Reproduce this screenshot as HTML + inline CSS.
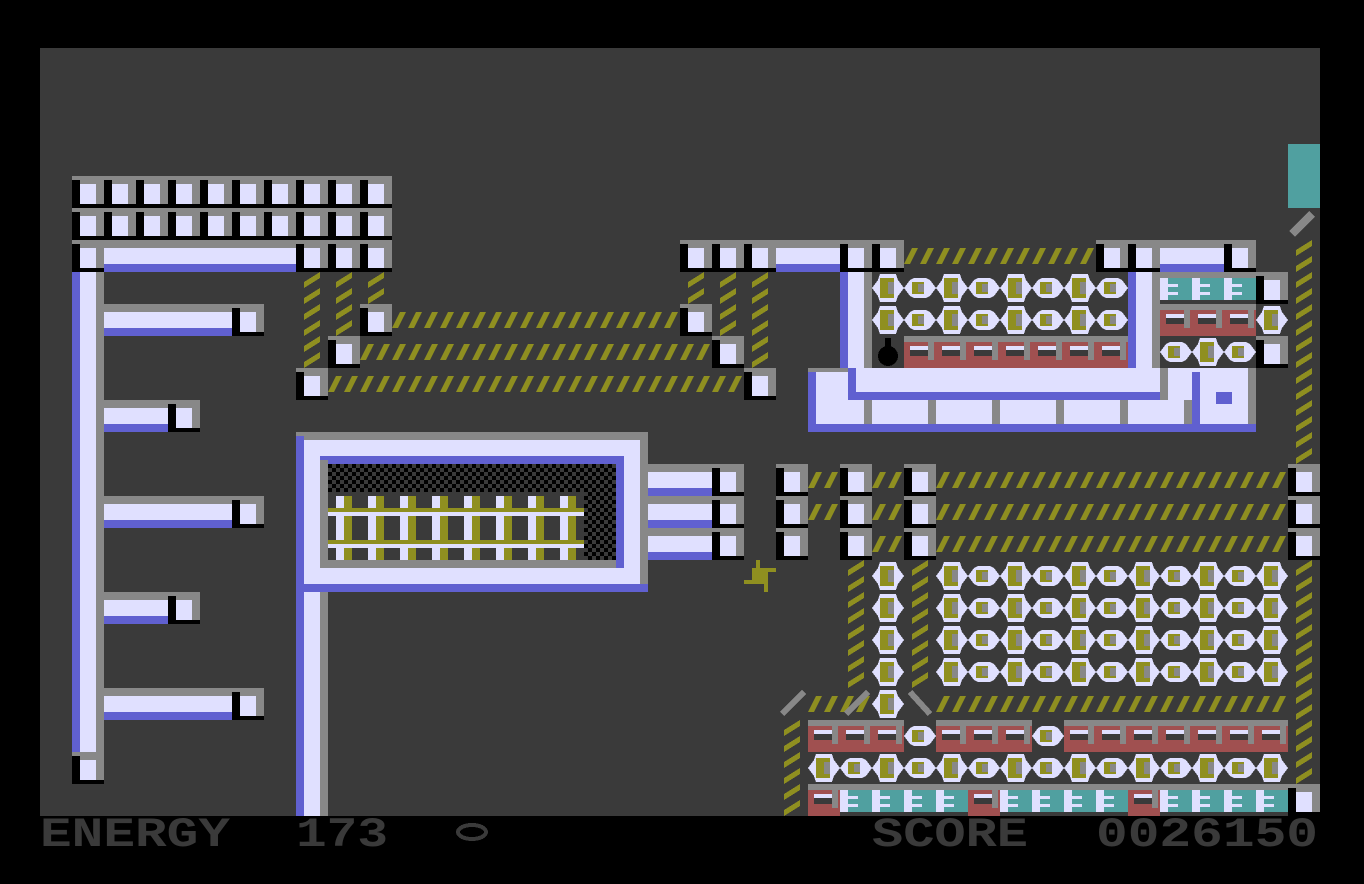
<!DOCTYPE html>
<html><head><meta charset="utf-8"><style>
html,body{margin:0;padding:0;background:#000;}
svg{display:block;}
</style></head><body>
<svg width="1364" height="884" viewBox="0 0 1364 884" xmlns="http://www.w3.org/2000/svg" shape-rendering="crispEdges">
<defs>
<pattern id="blk" x="40" y="48" width="32" height="32" patternUnits="userSpaceOnUse">
<rect width="32" height="32" fill="#888"/><rect x="0" y="4" width="8" height="28" fill="#000"/><rect x="0" y="28" width="32" height="4" fill="#000"/><rect x="8" y="8" width="16" height="20" fill="#e0e0ff"/>
</pattern>
<pattern id="ph" x="40" y="48" width="32" height="32" patternUnits="userSpaceOnUse">
<rect width="32" height="8" fill="#888"/><rect y="8" width="32" height="16" fill="#e0e0ff"/><rect y="24" width="32" height="8" fill="#6060d0"/>
</pattern>
<pattern id="pv" x="40" y="48" width="32" height="32" patternUnits="userSpaceOnUse">
<rect width="8" height="32" fill="#6060d0"/><rect x="8" width="16" height="32" fill="#e0e0ff"/><rect x="24" width="8" height="32" fill="#888"/>
</pattern>
<pattern id="sh" x="40" y="48" width="16" height="32" patternUnits="userSpaceOnUse">
<path d="M0 24 L6 24 L14 8 L8 8 Z" fill="#8f8f20"/>
</pattern>
<pattern id="sv" x="40" y="48" width="32" height="16" patternUnits="userSpaceOnUse">
<path d="M8 16 L8 10 L24 0 L24 6 Z" fill="#8f8f20"/>
</pattern>
<pattern id="pod" x="40" y="48" width="64" height="32" patternUnits="userSpaceOnUse">
<polygon points="0,16 6,8 8,2 24,2 26,8 32,16 26,24 24,30 8,30 6,24" fill="#e0e0ff"/>
<rect x="8" y="6" width="14" height="20" fill="#8f8f20"/><rect x="16" y="10" width="6" height="12" fill="#888"/>
<polygon points="32,16 38,8 42,6 54,6 58,8 64,16 58,24 54,26 42,26 38,24" fill="#e0e0ff"/>
<rect x="40" y="10" width="12" height="12" fill="#8f8f20"/><rect x="46" y="12" width="6" height="8" fill="#888"/>
</pattern>
<pattern id="red" x="40" y="48" width="32" height="32" patternUnits="userSpaceOnUse">
<rect width="32" height="32" fill="#a05050"/><rect width="32" height="6" fill="#888"/><rect x="24" y="0" width="6" height="24" fill="#888"/>
<rect x="6" y="10" width="18" height="10" fill="#3a3a3a"/><rect x="6" y="10" width="18" height="4" fill="#e0e0ff"/>
</pattern>
<pattern id="cy" x="40" y="48" width="32" height="32" patternUnits="userSpaceOnUse">
<rect width="32" height="32" fill="#3a3a3a"/><rect y="0" width="32" height="6" fill="#888"/><rect y="6" width="32" height="22" fill="#e0e0ff"/>
<rect x="8" y="6" width="24" height="22" fill="#50a0a0"/><rect x="8" y="12" width="10" height="3" fill="#e0e0ff"/><rect x="8" y="20" width="10" height="3" fill="#e0e0ff"/>
</pattern>
<pattern id="chk" x="0" y="0" width="8" height="8" patternUnits="userSpaceOnUse">
<rect width="8" height="8" fill="#3a3a3a"/><rect width="4" height="4" fill="#000"/><rect x="4" y="4" width="4" height="4" fill="#000"/>
</pattern>
<pattern id="rail" x="328" y="0" width="32" height="32" patternUnits="userSpaceOnUse">
<rect x="8" width="8" height="32" fill="#e0e0ff"/><rect x="16" width="8" height="32" fill="#8f8f20"/>
</pattern>
</defs>

<rect x="40" y="48" width="1280" height="768" fill="#3a3a3a"/>

<rect x="72" y="176" width="320" height="64" fill="url(#blk)"/>
<rect x="72" y="240" width="32" height="32" fill="url(#blk)"/>
<rect x="104" y="240" width="192" height="32" fill="url(#ph)"/>
<rect x="296" y="240" width="96" height="32" fill="url(#blk)"/>
<rect x="72" y="272" width="32" height="480" fill="url(#pv)"/>
<rect x="72" y="752" width="32" height="32" fill="url(#blk)"/>
<rect x="104" y="304" width="128" height="32" fill="url(#ph)"/><rect x="232" y="304" width="32" height="32" fill="url(#blk)"/>
<rect x="104" y="400" width="64" height="32" fill="url(#ph)"/><rect x="168" y="400" width="32" height="32" fill="url(#blk)"/>
<rect x="104" y="496" width="128" height="32" fill="url(#ph)"/><rect x="232" y="496" width="32" height="32" fill="url(#blk)"/>
<rect x="104" y="592" width="64" height="32" fill="url(#ph)"/><rect x="168" y="592" width="32" height="32" fill="url(#blk)"/>
<rect x="104" y="688" width="128" height="32" fill="url(#ph)"/><rect x="232" y="688" width="32" height="32" fill="url(#blk)"/>

<rect x="296" y="272" width="32" height="96" fill="url(#sv)"/>
<rect x="328" y="272" width="32" height="64" fill="url(#sv)"/>
<rect x="360" y="272" width="32" height="32" fill="url(#sv)"/>
<rect x="296" y="368" width="32" height="32" fill="url(#blk)"/>
<rect x="328" y="336" width="32" height="32" fill="url(#blk)"/>
<rect x="360" y="304" width="32" height="32" fill="url(#blk)"/>
<rect x="392" y="304" width="288" height="32" fill="url(#sh)"/><rect x="680" y="304" width="32" height="32" fill="url(#blk)"/>
<rect x="360" y="336" width="352" height="32" fill="url(#sh)"/><rect x="712" y="336" width="32" height="32" fill="url(#blk)"/>
<rect x="328" y="368" width="416" height="32" fill="url(#sh)"/><rect x="744" y="368" width="32" height="32" fill="url(#blk)"/>

<rect x="680" y="240" width="96" height="32" fill="url(#blk)"/>
<rect x="776" y="240" width="64" height="32" fill="url(#ph)"/>
<rect x="840" y="240" width="64" height="32" fill="url(#blk)"/>
<rect x="904" y="240" width="192" height="32" fill="url(#sh)"/>
<rect x="1096" y="240" width="64" height="32" fill="url(#blk)"/>
<rect x="1160" y="240" width="64" height="32" fill="url(#ph)"/>
<rect x="1224" y="240" width="32" height="32" fill="url(#blk)"/>
<rect x="680" y="272" width="32" height="32" fill="url(#sv)"/>
<rect x="712" y="272" width="32" height="64" fill="url(#sv)"/>
<rect x="744" y="272" width="32" height="96" fill="url(#sv)"/>

<rect x="872" y="272" width="256" height="64" fill="url(#pod)"/>
<rect x="904" y="336" width="224" height="32" fill="url(#red)"/>
<circle cx="888" cy="356" r="10" fill="#000"/><rect x="885" y="338" width="6" height="10" fill="#000"/>
<rect x="840" y="272" width="32" height="104" fill="url(#pv)"/>
<rect x="1128" y="272" width="32" height="96" fill="url(#pv)"/>
<rect x="864" y="368" width="264" height="8" fill="#888"/>
<rect x="808" y="368" width="448" height="64" fill="#e0e0ff"/>
<rect x="808" y="368" width="40" height="4" fill="#888"/>
<rect x="808" y="372" width="8" height="60" fill="#6060d0"/>
<rect x="848" y="392" width="320" height="8" fill="#6060d0"/>
<rect x="848" y="368" width="8" height="24" fill="#6060d0"/>
<rect x="808" y="424" width="448" height="8" fill="#6060d0"/>
<rect x="1160" y="368" width="8" height="32" fill="#888"/>
<rect x="1192" y="372" width="8" height="52" fill="#6060d0"/>
<rect x="1248" y="368" width="8" height="56" fill="#888"/>
<rect x="1216" y="392" width="16" height="12" fill="#6060d0"/>
<g fill="#888"><rect x="864" y="400" width="8" height="24"/><rect x="928" y="400" width="8" height="24"/><rect x="992" y="400" width="8" height="24"/><rect x="1056" y="400" width="8" height="24"/><rect x="1120" y="400" width="8" height="24"/><rect x="1184" y="400" width="8" height="24"/></g>
<rect x="1160" y="272" width="96" height="32" fill="url(#cy)"/>
<rect x="1256" y="272" width="32" height="32" fill="url(#blk)"/>
<rect x="1160" y="304" width="96" height="32" fill="url(#red)"/>
<rect x="1256" y="304" width="32" height="32" fill="url(#pod)"/>
<rect x="1160" y="336" width="96" height="32" fill="url(#pod)"/>
<rect x="1256" y="336" width="32" height="32" fill="url(#blk)"/>

<rect x="1288" y="144" width="32" height="64" fill="#50a0a0"/>
<path d="M1292 234 L1312 214" stroke="#888" stroke-width="8"/>
<rect x="1288" y="240" width="32" height="224" fill="url(#sv)"/>
<rect x="1288" y="464" width="32" height="96" fill="url(#blk)"/>
<rect x="1288" y="560" width="32" height="224" fill="url(#sv)"/>
<rect x="1288" y="784" width="32" height="32" fill="url(#blk)"/>

<rect x="296" y="432" width="352" height="160" fill="#888"/>
<rect x="304" y="440" width="336" height="144" fill="#e0e0ff"/>
<rect x="296" y="436" width="8" height="156" fill="#6060d0"/>
<rect x="304" y="584" width="344" height="8" fill="#6060d0"/>
<rect x="320" y="456" width="304" height="112" fill="#6060d0"/>
<rect x="320" y="460" width="8" height="108" fill="#888"/>
<rect x="320" y="560" width="296" height="8" fill="#888"/>
<rect x="328" y="464" width="288" height="96" fill="url(#chk)"/>
<rect x="328" y="492" width="256" height="68" fill="#3a3a3a"/>
<rect x="328" y="496" width="256" height="64" fill="url(#rail)"/>
<rect x="328" y="508" width="256" height="4" fill="#8f8f20"/><rect x="328" y="512" width="256" height="4" fill="#e0e0ff"/>
<rect x="328" y="540" width="256" height="4" fill="#8f8f20"/><rect x="328" y="544" width="256" height="4" fill="#e0e0ff"/>
<rect x="296" y="592" width="32" height="224" fill="url(#pv)"/>
<rect x="648" y="464" width="64" height="96" fill="url(#ph)"/>
<rect x="712" y="464" width="32" height="96" fill="url(#blk)"/>
<rect x="776" y="464" width="32" height="96" fill="url(#blk)"/>
<rect x="840" y="464" width="32" height="96" fill="url(#blk)"/>
<rect x="904" y="464" width="32" height="96" fill="url(#blk)"/>
<rect x="808" y="464" width="32" height="64" fill="url(#sh)"/>
<rect x="872" y="464" width="32" height="96" fill="url(#sh)"/>
<rect x="936" y="464" width="352" height="96" fill="url(#sh)"/>
<g fill="#8f8f20"><rect x="752" y="568" width="16" height="16"/><rect x="744" y="580" width="8" height="4"/><rect x="768" y="568" width="8" height="4"/><rect x="756" y="560" width="4" height="8"/><rect x="764" y="584" width="4" height="8"/></g>

<rect x="840" y="560" width="32" height="128" fill="url(#sv)"/>
<rect x="904" y="560" width="32" height="128" fill="url(#sv)"/>
<rect x="872" y="560" width="32" height="160" fill="url(#pod)"/>
<rect x="936" y="560" width="352" height="128" fill="url(#pod)"/>
<rect x="808" y="688" width="64" height="32" fill="url(#sh)"/>
<rect x="936" y="688" width="352" height="32" fill="url(#sh)"/>
<g stroke="#888" stroke-width="6" fill="none"><path d="M782 714 L804 692"/><path d="M846 714 L868 692"/><path d="M910 692 L930 714"/></g>
<rect x="776" y="720" width="32" height="96" fill="url(#sv)"/>
<rect x="808" y="720" width="96" height="32" fill="url(#red)"/>
<rect x="904" y="720" width="32" height="32" fill="url(#pod)"/>
<rect x="936" y="720" width="96" height="32" fill="url(#red)"/>
<rect x="1032" y="720" width="32" height="32" fill="url(#pod)"/>
<rect x="1064" y="720" width="224" height="32" fill="url(#red)"/>
<rect x="808" y="752" width="480" height="32" fill="url(#pod)"/>
<rect x="808" y="784" width="32" height="32" fill="url(#red)"/>
<rect x="840" y="784" width="128" height="32" fill="url(#cy)"/>
<rect x="968" y="784" width="32" height="32" fill="url(#red)"/>
<rect x="1000" y="784" width="128" height="32" fill="url(#cy)"/>
<rect x="1128" y="784" width="32" height="32" fill="url(#red)"/>
<rect x="1160" y="784" width="128" height="32" fill="url(#cy)"/>

<g fill="#3a3a3a" font-family="Liberation Mono, monospace" font-weight="bold" font-size="42">
<text x="40" y="846" textLength="190" lengthAdjust="spacingAndGlyphs">ENERGY</text>
<text x="296" y="846" textLength="92" lengthAdjust="spacingAndGlyphs">173</text>
<text x="872" y="846" textLength="156" lengthAdjust="spacingAndGlyphs">SCORE</text>
<text x="1096" y="846" textLength="222" lengthAdjust="spacingAndGlyphs">0026150</text>
</g>
<ellipse cx="472" cy="832" rx="14" ry="7" fill="none" stroke="#3a3a3a" stroke-width="4"/>
</svg>
</body></html>
